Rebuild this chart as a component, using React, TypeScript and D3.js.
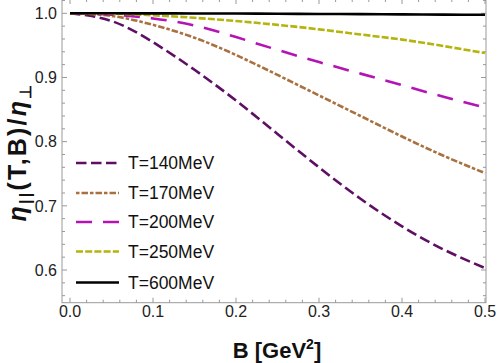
import React from "react";
import * as d3 from "d3";

const bValues = [0, 0.05, 0.1, 0.15, 0.2, 0.25, 0.3, 0.35, 0.4, 0.45, 0.5];
const t140 = [1.0, 0.988, 0.955, 0.912, 0.864, 0.812, 0.76, 0.711, 0.668, 0.632, 0.603];
const t170 = [1.0, 0.996, 0.982, 0.962, 0.935, 0.904, 0.872, 0.84, 0.808, 0.778, 0.751];
const t200 = [1.0, 0.998, 0.992, 0.981, 0.963, 0.943, 0.924, 0.906, 0.888, 0.87, 0.853];
const t250 = [1.0, 0.9995, 0.997, 0.993, 0.988, 0.982, 0.975, 0.967, 0.959, 0.949, 0.938];
const t600 = [1.0, 1.0, 0.9999, 0.9998, 0.9996, 0.9993, 0.999, 0.9987, 0.9984, 0.998, 0.9977];

const seriesLabels = ["T=140MeV", "T=170MeV", "T=200MeV", "T=250MeV", "T=600MeV"];
const seriesValues = [t140, t170, t200, t250, t600];
const seriesColors = ["#5e0f63", "#a8713f", "#b414b4", "#b4b40c", "#000000"];
const seriesDash = ["10.5,4.5", "3.5,2,6.5,2", "16,11", "7,2.2", null];

const xTicks = [0, 0.1, 0.2, 0.3, 0.4, 0.5];
const yTicks = [0.6, 0.7, 0.8, 0.9, 1.0];

export default function App() {
  const W = 498, H = 363;
  const left = 62, right = 486, top = -1, bottom = 302.7;
  const x = d3.scaleLinear().domain([0, 0.5]).range([70, 485]);
  const y = d3.scaleLinear().domain([0.6, 1.0]).range([270, 13.3]);
  const frame = "#999";
  const xMinorAll = d3
    .range(-0.02, 0.52, 0.02)
    .map((v) => +v.toFixed(2))
    .filter((v) => x(v) >= left && x(v) <= right && !xTicks.some((t) => Math.abs(t - v) < 1e-6));
  const yMinorAll = d3
    .range(0.54, 1.03, 0.02)
    .map((v) => +v.toFixed(2))
    .filter((v) => y(v) >= top && y(v) <= bottom && !yTicks.some((t) => Math.abs(t - v) < 1e-6));
  const line = d3
    .line<number>()
    .x((_, i) => x(bValues[i]))
    .y((d) => y(d))
    .curve(d3.curveNatural);
  const font = "'Liberation Sans', Arial, sans-serif";
  const legY = [163, 193, 222, 251.5, 282.5];
  return (
    <svg width={W} height={H} style={{ position: "absolute", left: 0, top: 0, background: "#fff" }} fontFamily={font}>
      <rect x={left} y={top} width={right - left} height={bottom - top} fill="none" stroke={frame} strokeWidth={1} />
      {xTicks.map((t) => (
        <g key={"xt" + t}>
          <line x1={x(t)} x2={x(t)} y1={bottom} y2={bottom - 5} stroke={frame} />
          <line x1={x(t)} x2={x(t)} y1={top} y2={top + 5} stroke={frame} />
          <text x={x(t)} y={317} fontSize={16} textAnchor="middle" fill="#222">
            {t.toFixed(1)}
          </text>
        </g>
      ))}
      {xMinorAll.map((t) => (
        <g key={"xm" + t}>
          <line x1={x(t)} x2={x(t)} y1={bottom} y2={bottom - 3} stroke={frame} />
          <line x1={x(t)} x2={x(t)} y1={top} y2={top + 3} stroke={frame} />
        </g>
      ))}
      {yTicks.map((t) => (
        <g key={"yt" + t}>
          <line x1={left} x2={left + 5} y1={y(t)} y2={y(t)} stroke={frame} />
          <line x1={right} x2={right - 5} y1={y(t)} y2={y(t)} stroke={frame} />
          <text x={57} y={y(t) + 5.8} fontSize={16} textAnchor="end" fill="#222">
            {t.toFixed(1)}
          </text>
        </g>
      ))}
      {yMinorAll.map((t) => (
        <g key={"ym" + t}>
          <line x1={left} x2={left + 3} y1={y(t)} y2={y(t)} stroke={frame} />
          <line x1={right} x2={right - 3} y1={y(t)} y2={y(t)} stroke={frame} />
        </g>
      ))}
      {seriesValues.map((vals, i) => (
        <path
          key={"s" + i}
          d={line(vals) || ""}
          fill="none"
          stroke={seriesColors[i]}
          strokeWidth={2.6}
          strokeDasharray={seriesDash[i] || undefined}
        />
      ))}
      {seriesLabels.map((lab, i) => (
        <g key={"lg" + i}>
          <line
            x1={76}
            x2={119}
            y1={legY[i]}
            y2={legY[i]}
            stroke={seriesColors[i]}
            strokeWidth={2.6}
            strokeDasharray={seriesDash[i] || undefined}
          />
          <text x={128} y={legY[i] + 6.3} fontSize={17.5} fill="#111">
            {lab}
          </text>
        </g>
      ))}
      <text x={277} y={358} fontSize={22} fontWeight="bold" textAnchor="middle" fill="#111">
        B [GeV<tspan fontSize={14} dy={-9.5}>2</tspan>
        <tspan dy={9.5}>]</tspan>
      </text>
      <text
        transform="translate(26,152) rotate(-90)"
        fontSize={25}
        fontWeight="bold"
        textAnchor="middle"
        letterSpacing={2.2}
        fill="#111"
      >
        <tspan fontStyle="italic">η</tspan>
        <tspan fontSize={16} dy={5}>||</tspan>
        <tspan dy={-5}>(T,B)/</tspan>
        <tspan fontStyle="italic">η</tspan>
        <tspan fontSize={16} dy={5}>⊥</tspan>
      </text>
    </svg>
  );
}
